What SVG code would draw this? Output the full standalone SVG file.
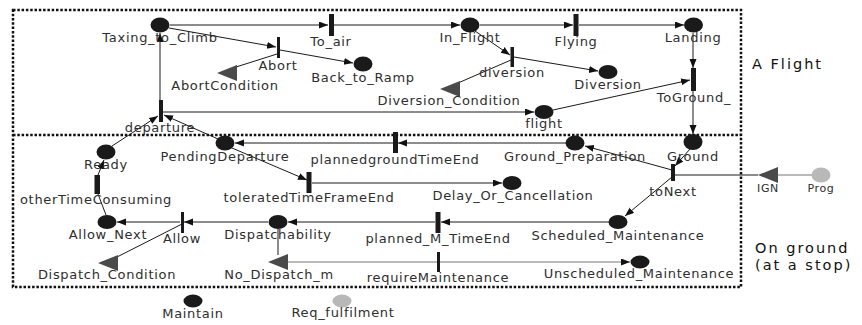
<svg xmlns="http://www.w3.org/2000/svg" width="862" height="325" viewBox="0 0 862 325">
<style>
.p{fill:#1a1a1a}
.t{fill:#1a1a1a}
.c{fill:#4a4a4a}
.g{fill:#b8b8b8}
text{font-family:"DejaVu Sans","Liberation Sans",sans-serif;font-size:13px;letter-spacing:0.7px;fill:#2e2e2e;text-anchor:middle}
.sm{font-size:11px;letter-spacing:0.6px}
.big{font-size:14.5px;letter-spacing:2px;text-anchor:start;fill:#111}
.e{stroke:#1a1a1a;stroke-width:1;fill:none}
.ea{marker-end:url(#ah)}
.eg{stroke:#777}
.box{fill:none;stroke:#111;stroke-width:2.5;stroke-dasharray:2.5 1.8}
</style>
<defs>
<marker id="ah" markerUnits="userSpaceOnUse" markerWidth="10" markerHeight="8" refX="9" refY="3.5" orient="auto">
<path d="M0,0 L9,3.5 L0,7 z" fill="#111"/>
</marker>
</defs>
<rect width="862" height="325" fill="#fff"/>
<g id="frames">
<rect class="box" x="13" y="10" width="728" height="277"/>
<line class="box" x1="13" y1="135" x2="741" y2="135"/>
<text class="big" x="752" y="69">A Flight</text>
<text class="big" x="755" y="253">On ground</text>
<text class="big" x="755" y="270">(at a stop)</text>
</g>
<g id="connectors">
<line class="e ea" x1="170" y1="25" x2="328" y2="25"/>
<line class="e ea" x1="334" y1="25" x2="460" y2="25"/>
<line class="e ea" x1="480" y1="25" x2="573" y2="25"/>
<line class="e ea" x1="579" y1="25" x2="684" y2="25"/>
<line class="e ea" x1="693" y1="33" x2="693" y2="68"/>
<line class="e ea" x1="693" y1="91" x2="693" y2="134"/>
<line class="e ea" x1="169" y1="28" x2="276" y2="47"/>
<line class="e ea" x1="280" y1="50" x2="353" y2="63"/>
<line class="e" x1="277" y1="54" x2="236" y2="67"/>
<line class="e ea" x1="475" y1="31" x2="510" y2="55"/>
<line class="e ea" x1="514" y1="57" x2="598" y2="71"/>
<line class="e" x1="511" y1="60" x2="458" y2="83"/>
<line class="e ea" x1="160" y1="100" x2="160" y2="33"/>
<line class="e ea" x1="163" y1="112" x2="534" y2="112"/>
<line class="e ea" x1="553" y1="110" x2="690" y2="80"/>
<line class="e ea" x1="112" y1="146" x2="158" y2="116"/>
<line class="e ea" x1="218" y1="139" x2="164" y2="115"/>
<line class="e ea" x1="566" y1="143" x2="398" y2="143"/>
<line class="e ea" x1="393" y1="143" x2="235" y2="143"/>
<line class="e ea" x1="232" y1="148" x2="307" y2="180"/>
<line class="e ea" x1="312" y1="183" x2="502" y2="183"/>
<line class="e ea" x1="690" y1="149" x2="675" y2="166"/>
<line class="e ea" x1="672" y1="170" x2="585" y2="146"/>
<line class="e ea" x1="672" y1="177" x2="625" y2="216"/>
<line class="e" x1="758" y1="175" x2="674" y2="175"/>
<line class="e eg" x1="812" y1="175" x2="778" y2="175"/>
<line class="e ea" x1="609" y1="222" x2="441" y2="222"/>
<line class="e ea" x1="435" y1="222" x2="288" y2="222"/>
<line class="e ea" x1="268" y1="222" x2="184" y2="222"/>
<line class="e ea" x1="180" y1="222" x2="117" y2="222"/>
<line class="e" x1="182" y1="224" x2="117" y2="257"/>
<line class="e" x1="106" y1="215" x2="98" y2="194"/>
<line class="e ea" x1="98" y1="175" x2="104" y2="160"/>
<line class="e" x1="278" y1="229" x2="278" y2="255" stroke="#444"/>
<line class="e eg" x1="288" y1="262" x2="437" y2="262"/>
<line class="e eg ea" x1="439" y1="262" x2="630" y2="262"/>
</g>
<g id="Taxing_to_Climb"><ellipse class="p" cx="160" cy="25" rx="9.5" ry="7.5"/><text x="160" y="42">Taxing_to_Climb</text></g>
<g id="To_air"><rect class="t" x="329" y="14" width="5" height="22"/><text x="331" y="46">To_air</text></g>
<g id="In_Flight"><ellipse class="p" cx="470" cy="25" rx="9.5" ry="7.5"/><text x="470" y="42">In_Flight</text></g>
<g id="Flying"><rect class="t" x="573.5" y="14" width="5" height="22"/><text x="576" y="46">Flying</text></g>
<g id="Landing"><ellipse class="p" cx="693.5" cy="25" rx="9.5" ry="7.5"/><text x="693" y="42">Landing</text></g>
<g id="Abort"><rect class="t" x="277" y="37" width="3" height="21"/><text x="278" y="70">Abort</text></g>
<g id="AbortCondition"><polygon class="c" points="217,73 237,65 237,81"/><text x="225" y="90">AbortCondition</text></g>
<g id="Back_to_Ramp"><ellipse class="p" cx="363" cy="64" rx="9.5" ry="7.5"/><text x="363" y="82">Back_to_Ramp</text></g>
<g id="diversion"><rect class="t" x="510.5" y="47" width="3.5" height="20"/><text x="512" y="77">diversion</text></g>
<g id="Diversion_Condition"><polygon class="c" points="440,89 460,81 460,97"/><text x="449" y="105">Diversion_Condition</text></g>
<g id="Diversion"><ellipse class="p" cx="608" cy="72" rx="9.5" ry="7"/><text x="608" y="89">Diversion</text></g>
<g id="ToGround_"><rect class="t" x="691" y="68" width="5" height="23"/><text x="694" y="102">ToGround_</text></g>
<g id="flight"><ellipse class="p" cx="544" cy="112" rx="9.5" ry="7"/><text x="544" y="128">flight</text></g>
<g id="departure"><rect class="t" x="159" y="100" width="4" height="22"/><text x="160" y="132">departure</text></g>
<g id="Ready"><ellipse class="p" cx="106" cy="152" rx="9.5" ry="7.5"/><text x="106" y="169">Ready</text></g>
<g id="PendingDeparture"><ellipse class="p" cx="225" cy="143" rx="9.5" ry="7.5"/><text x="225" y="161">PendingDeparture</text></g>
<g id="plannedgroundTimeEnd"><rect class="t" x="393" y="132" width="5" height="21"/><text x="395" y="164">plannedgroundTimeEnd</text></g>
<g id="Ground_Preparation"><ellipse class="p" cx="575" cy="143" rx="9.5" ry="7.5"/><text x="575" y="161">Ground_Preparation</text></g>
<g id="Ground"><ellipse class="p" cx="693" cy="142" rx="9.5" ry="8"/><text x="693" y="161">Ground</text></g>
<g id="toNext"><rect class="t" x="671" y="164" width="4" height="17"/><text x="673" y="196">toNext</text></g>
<g id="IGN"><polygon class="c" points="758,175 778,167 778,183"/><text class="sm" x="768" y="192">IGN</text></g>
<g id="Prog"><ellipse class="g" cx="821" cy="175" rx="9.5" ry="7.5"/><text class="sm" x="821" y="192">Prog</text></g>
<g id="toleratedTimeFrameEnd"><rect class="t" x="306.5" y="172" width="5" height="21"/><text x="309" y="202">toleratedTimeFrameEnd</text></g>
<g id="Delay_Or_Cancellation"><ellipse class="p" cx="512" cy="183" rx="9.5" ry="7"/><text x="513" y="200">Delay_Or_Cancellation</text></g>
<g id="otherTimeConsuming"><rect class="t" x="94.5" y="175" width="5.5" height="19"/><text x="96" y="204">otherTimeConsuming</text></g>
<g id="Allow_Next"><ellipse class="p" cx="107" cy="222" rx="9.5" ry="7"/><text x="108" y="239">Allow_Next</text></g>
<g id="Allow"><rect class="t" x="181" y="212" width="3" height="21"/><text x="182" y="243">Allow</text></g>
<g id="Dispatchability"><ellipse class="p" cx="278" cy="222" rx="9.5" ry="7"/><text x="278" y="239">Dispatchability</text></g>
<g id="planned_M_TimeEnd"><rect class="t" x="435.5" y="212" width="5" height="21"/><text x="438" y="243">planned_M_TimeEnd</text></g>
<g id="Scheduled_Maintenance"><ellipse class="p" cx="618" cy="222" rx="9.5" ry="7"/><text x="618" y="240">Scheduled_Maintenance</text></g>
<g id="Dispatch_Condition"><polygon class="c" points="98,263 118,255 118,271"/><text x="107" y="279">Dispatch_Condition</text></g>
<g id="No_Dispatch_m"><polygon class="c" points="268,262 288,254 288,270"/><text x="279" y="279">No_Dispatch_m</text></g>
<g id="requireMaintenance"><rect class="t" x="437" y="252" width="3" height="20"/><text x="438" y="282">requireMaintenance</text></g>
<g id="Unscheduled_Maintenance"><ellipse class="p" cx="640" cy="262" rx="9.5" ry="6.5"/><text x="639" y="278">Unscheduled_Maintenance</text></g>
<g id="Maintain"><ellipse class="p" cx="193" cy="301" rx="9.5" ry="6.5"/><text x="193" y="318">Maintain</text></g>
<g id="Req_fulfilment"><ellipse class="g" cx="342" cy="301" rx="9.5" ry="6.5"/><text x="343" y="317">Req_fulfilment</text></g>
</svg>
